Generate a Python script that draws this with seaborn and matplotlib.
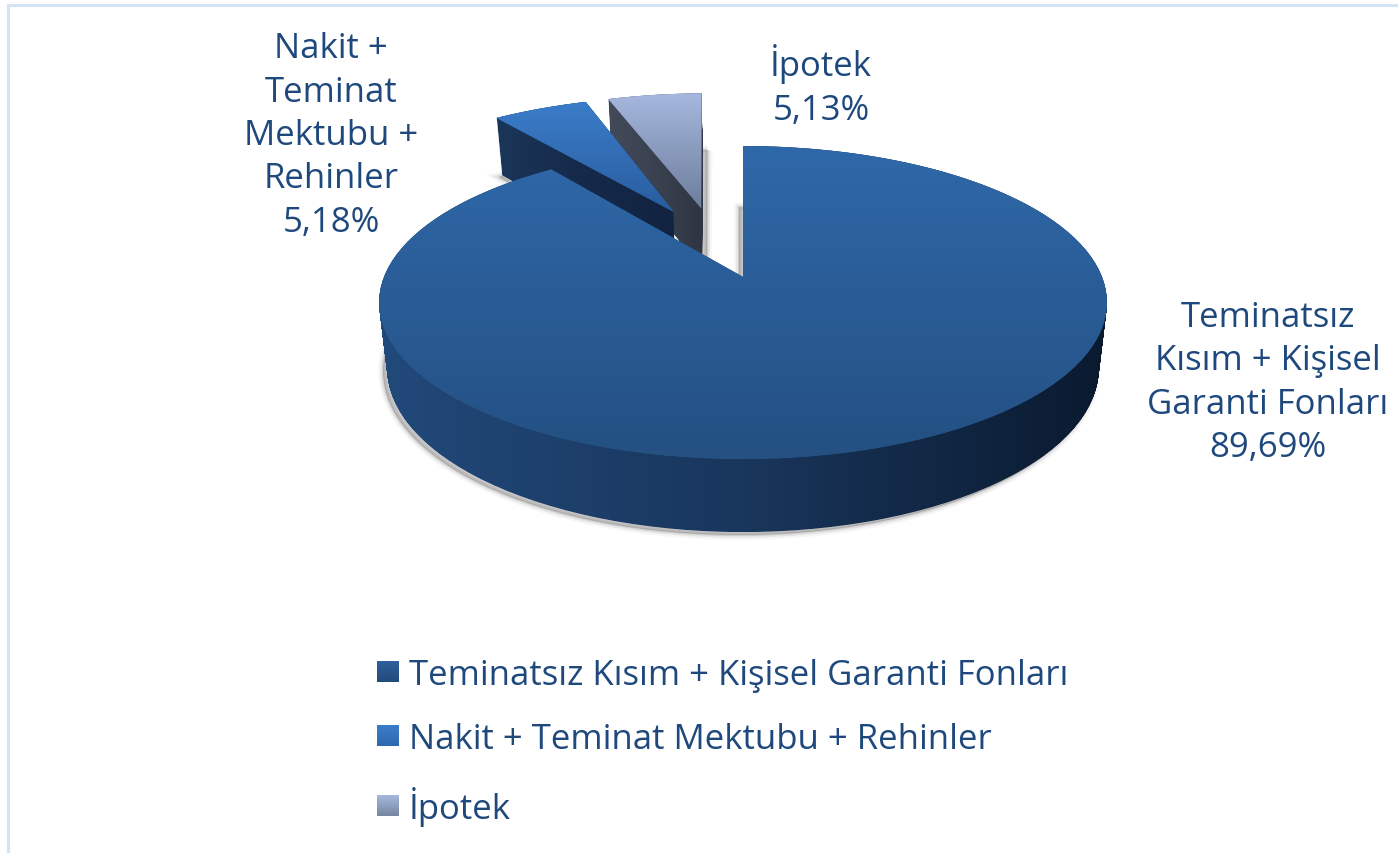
import numpy as np
import matplotlib
matplotlib.use("Agg")
import matplotlib.pyplot as plt
import seaborn as sns
from matplotlib.patches import PathPatch
from matplotlib.path import Path
from matplotlib.transforms import Transform

# Values
categories = ["Teminatsız Kısım + Kişisel Garanti Fonları", "Nakit + Teminat Mektubu + Rehinler", "İpotek"]
shares = [89.69, 5.18, 5.13]
slice_labels = ["Teminatsız\nKısım + Kişisel\nGaranti Fonları\n89,69%", "Nakit +\nTeminat\nMektubu +\nRehinler\n5,18%", "İpotek\n5,13%"]

# Gradients for top faces (vertical) and side faces (horizontal)
top_colors = [("#2f68a9", "#245082"), ("#3b7dca", "#295c9e"), ("#a6b8de", "#6d7d9c")]
side_colors = [("#21497a", "#19365c", "#0a1a2f"), ("#1a3659", "#15294a", "#11233f"), ("#434b5a", "#3a4150", "#2f3542")]
swatch_colors = [("#2f5f9c", "#234a7c"), ("#3b7dca", "#2f68ae"), ("#a6b8de", "#76869f")]
text_color = "#1f497d"

APEX_X, APEX_Y = 743, 278
W, H = 1398, 854


class Tilt(Transform):
    """Perspective view of the flat unit pie, output in pixels."""
    input_dims = 2
    output_dims = 2

    def transform_non_affine(self, xy):
        xy = np.asarray(xy, dtype=float)
        d = 1 + 0.163 * xy[:, 1]
        return np.column_stack((APEX_X + 359 * xy[:, 0] / d, APEX_Y - 152.3 * xy[:, 1] / d))


def outline(wedge):
    # flatten the wedge so that the perspective stays exact on the arc
    p = wedge.get_path().deepcopy()
    p.vertices = p.vertices * 500
    poly = p.to_polygons(closed_only=True)[0] / 500
    return tilt.transform(poly)


def sunk(xy, t):
    # same outline pushed down by t of the pie thickness
    out = xy.copy()
    out[:, 0] = APEX_X + (xy[:, 0] - APEX_X) * (1 - 0.022 * t)
    out[:, 1] = APEX_Y + (xy[:, 1] - APEX_Y) * (1 + 0.047 * t) + 64.5 * t
    return out


def gradient(path, colors, vertical, z):
    x0, y0 = path.vertices.min(axis=0)
    x1, y1 = path.vertices.max(axis=0)
    ramp = np.linspace(0, 1, 256)
    ramp = ramp[:, None] if vertical else ramp[None, :]
    cmap = sns.blend_palette(colors, as_cmap=True)
    im = ax.imshow(ramp, cmap=cmap, extent=(x0, x1, y1, y0), origin="upper", aspect="auto",
                   interpolation="bilinear", zorder=z)
    im.set_clip_path(path, ax.transData)


sns.set_theme(style="white")
plt.rcParams["font.family"] = ["Open Sans", "DejaVu Sans"]

fig = plt.figure(figsize=(W / 100, H / 100), dpi=100, facecolor="white")
ax = fig.add_axes([0, 0, 1, 1])

mid = [sns.blend_palette(c, 3)[1] for c in top_colors]
wedges, _ = ax.pie(shares, colors=mid, startangle=90, counterclock=False, radius=1,
                   explode=[0, 0.5, 0.5], frame=True, wedgeprops={"linewidth": 0, "edgecolor": "none"})
tilt = Tilt()
# the two small slices sit a little off their own bisector and are turned slightly
for wedge, centre, turn in zip(wedges[1:], [(-0.207, 0.459), (-0.126, 0.489)], [0.7, 1.0]):
    wedge.set_center(centre)
    wedge.set_radius(1.012)
    wedge.set_theta1(wedge.theta1 + turn)
    wedge.set_theta2(wedge.theta2 + turn)

# painting order: back slice, middle slice, big slice
order = {2: 2, 1: 6, 0: 10}
shadow_shift = {0: (-4, 3), 1: (-3, 2), 2: (5, 1)}
for i, wedge in enumerate(wedges):
    z = order[i]
    wedge.set_transform(tilt + ax.transData)
    wedge.set_zorder(z + 2)
    top = outline(wedge)

    # soft ground shadow
    ground = sunk(top, 1) + shadow_shift[i]
    for lw, a in [(7, 0.05), (4, 0.10), (1.5, 0.16)]:
        ax.add_patch(PathPatch(Path(ground), fc="#555555", ec="#555555", lw=lw, alpha=a, zorder=1))

    # side walls: stack of the outline going down
    stack = Path.make_compound_path(*[Path(sunk(top, t)) for t in np.linspace(0, 1, 90)])
    gradient(stack, side_colors[i], False, z)

    gradient(Path(top), top_colors[i], True, z + 3)

# frame lines of the original picture
ax.plot([8, 8, W], [H, 6, 6], color="#d5e3f6", lw=2.2, zorder=0, solid_joinstyle="miter")

for label, x, y in zip(slice_labels, [1268, 331, 821], [383, 136, 86]):
    ax.text(x, y, label, ha="center", va="center", multialignment="center", fontsize=25,
            color=text_color, linespacing=1.365)

leg = ax.legend(wedges, categories, loc="upper left", bbox_to_anchor=(377 / W, 1 - 659 / H), frameon=False,
                fontsize=25, labelcolor=text_color, handlelength=0.605, handleheight=0.51,
                handletextpad=0.32, labelspacing=0.87, borderpad=0, borderaxespad=0)

ax.set_xlim(0, W)
ax.set_ylim(H, 0)
ax.axis("off")

# gradient on the legend squares
fig.canvas.draw()
for handle, colors in zip(leg.legend_handles, swatch_colors):
    box = handle.get_window_extent()
    cmap = sns.blend_palette(colors, as_cmap=True)
    ax.imshow(np.linspace(0, 1, 64)[:, None], cmap=cmap, aspect="auto", origin="upper", zorder=8,
              extent=(box.x0, box.x1, H - box.y0, H - box.y1))
ax.set_xlim(0, W)
ax.set_ylim(H, 0)

fig.savefig("out.png", dpi=100)
